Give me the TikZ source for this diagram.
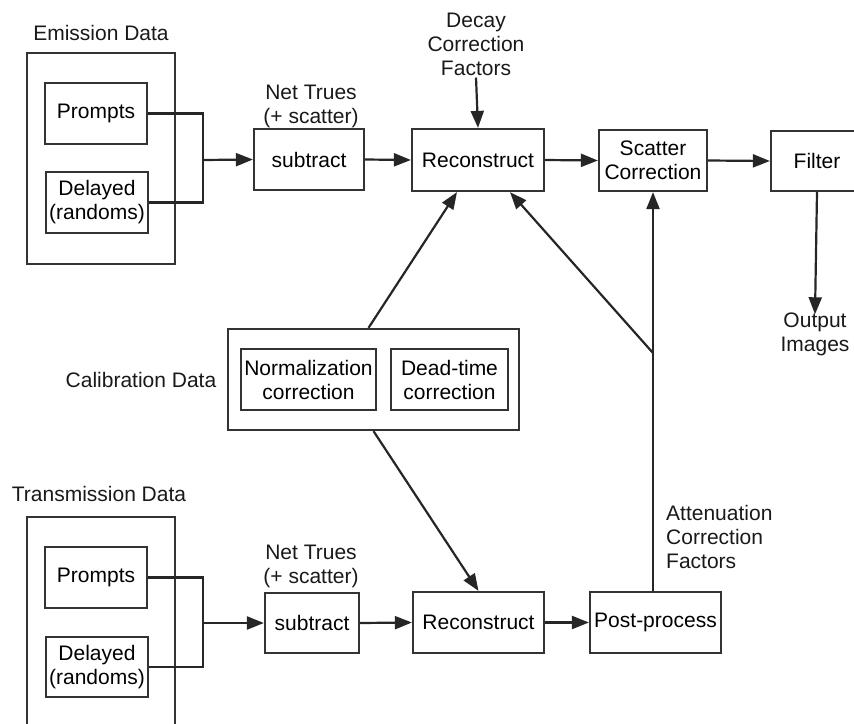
\documentclass[tikz,border=0pt]{standalone}
\usepackage{fontspec}
\setmainfont{Liberation Sans}
\usetikzlibrary{arrows.meta}
\usetikzlibrary{positioning,calc}

\begin{document}
\begin{tikzpicture}[x=1pt,y=-1pt]
\tikzset{procbox/.style={rectangle,draw=black!80,line width=2.2pt,inner sep=0pt,align=center},
  lbl/.style={inner sep=0pt,align=center,text=black!90},
  flow/.style={line width=2.2pt,draw=black!85,-{Triangle[length=17pt,width=13pt]}},
  wire/.style={line width=2.2pt,draw=black!85}}
\useasboundingbox (0,0) rectangle (854,723);
\clip (0,0) rectangle (854,723);
\fontsize{21}{24}\selectfont
% emission branch
\node[lbl](emdata) at (101,33){Emission Data};
\node[procbox,minimum width=148pt,minimum height=211pt](embox) at (101,158.5){};
\node[procbox,minimum width=102pt,minimum height=61pt](emp) at (96,113.5){Prompts};
\node[procbox,minimum width=102pt,minimum height=61pt](emd) at (97,202.5){Delayed\\(randoms)};
\coordinate (emj) at (203,160);
\node[procbox,minimum width=110pt,minimum height=61pt](suba) at (309,159.5){subtract};
\node[lbl](neta) at (311,106){Net Trues\\(+ scatter)};
\draw[wire](emp.east) -| (emj);
\draw[wire](emd.east) -| (emj);
\draw[flow](emj) -- (suba.west);
\node[procbox,minimum width=132pt,minimum height=62pt](reca) at (478,160){Reconstruct};
\node[lbl](decay) at (476,44){Decay\\Correction\\Factors};
\draw[flow]([yshift=-2pt]decay.south) -- (reca.north);
\draw[flow](suba.east) -- (reca.west);
\node[procbox,minimum width=108pt,minimum height=61pt](scat) at (653,160.5){Scatter\\Correction};
\draw[flow](reca.east) -- (scat.west);
\node[procbox,minimum width=92pt,minimum height=60pt](filt) at (817,161){Filter};
\draw[flow](scat.east) -- (filt.west);
\node[lbl](outimg) at (815,334){Output\\Images};
\draw[flow](filt.south) -- ([yshift=-2pt]outimg.north);
% calibration
\node[lbl](caldata) at (141,380){Calibration Data};
\node[procbox,minimum width=291pt,minimum height=101pt](cal) at (373.5,379.5){};
\node[procbox,minimum width=135pt,minimum height=61pt](norm) at (308.5,379.5){Normalization\\correction};
\node[procbox,minimum width=117pt,minimum height=61pt](dead) at (449.5,379.5){Dead-time\\correction};
\draw[flow]([xshift=-5pt]cal.north) -- ([xshift=-21pt]reca.south);
% transmission branch
\node[lbl](trdata) at (99,494){Transmission Data};
\node[procbox,minimum width=148pt,minimum height=243pt](trbox) at (101,638.5){};
\node[procbox,minimum width=102pt,minimum height=61pt](trp) at (96,577.5){Prompts};
\node[procbox,minimum width=102pt,minimum height=60pt](trd) at (97,667){Delayed\\(randoms)};
\coordinate (trj) at (203,623);
\node[procbox,minimum width=94pt,minimum height=60pt](subb) at (312,623){subtract};
\node[lbl](netb) at (311,566){Net Trues\\(+ scatter)};
\draw[wire](trp.east) -| (trj);
\draw[wire](trd.east) -| (trj);
\draw[flow](trj) -- (subb.west);
\node[procbox,minimum width=131pt,minimum height=61pt](recb) at (478.5,622.5){Reconstruct};
\draw[flow](subb.east) -- (recb.west);
\draw[flow](cal.south) -- (recb.north);
\node[procbox,minimum width=131pt,minimum height=61pt](post) at (655.5,622.5){Post-process};
\draw[flow](recb.east) -- (post.west);
\node[lbl,align=left,anchor=west](atten) at (666,537){Attenuation\\Correction\\Factors};
\coordinate (attj) at (scat.south |- 0,353);
\draw[flow](scat.south |- post.north) -- (scat.south);
\draw[flow](attj) -- ([xshift=32pt]reca.south);
\end{tikzpicture}
\end{document}
